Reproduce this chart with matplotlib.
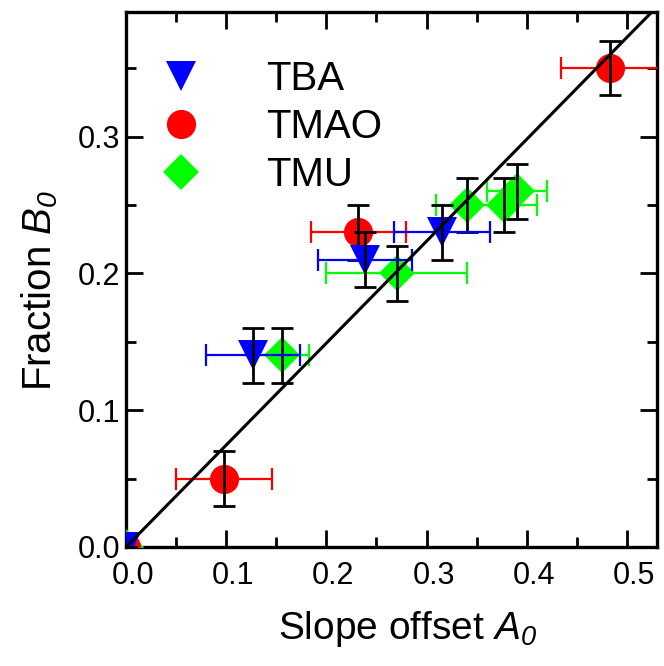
import matplotlib
matplotlib.use("Agg")
import matplotlib.pyplot as plt
from matplotlib.ticker import MultipleLocator, FormatStrFormatter
from matplotlib.transforms import ScaledTranslation

plt.rcParams['font.family'] = ['Liberation Sans', 'DejaVu Sans']
plt.rcParams['mathtext.fontset'] = 'custom'
plt.rcParams['mathtext.rm'] = 'Liberation Sans'
plt.rcParams['mathtext.it'] = 'Liberation Sans:italic'
plt.rcParams['mathtext.sf'] = 'Liberation Sans:italic'

# TBA data
tba_x = [0.0, 0.127, 0.2385, 0.315]
tba_y = [0.0, 0.14, 0.21, 0.23]
tba_xerr = [0.0, 0.047, 0.047, 0.048]
tba_yerr = [0.0, 0.02, 0.02, 0.02]

# TMAO data
tmao_x = [0.0, 0.0975, 0.232, 0.483]
tmao_y = [0.0, 0.05, 0.23, 0.35]
tmao_xerr = [0.0, 0.048, 0.047, 0.049]
tmao_yerr = [0.0, 0.02, 0.02, 0.02]

# TMU data
tmu_x = [0.0, 0.156, 0.27, 0.340, 0.377, 0.390]
tmu_y = [0.0, 0.14, 0.20, 0.25, 0.25, 0.26]
tmu_xerr = [0.0, 0.027, 0.07, 0.031, 0.033, 0.03]
tmu_yerr = [0.0, 0.02, 0.02, 0.02, 0.02, 0.02]

# guide line y = slope * x
slope = 0.745
line_x = [0.0, 0.6]

fig = plt.figure(figsize=(6.64, 6.66), dpi=100)
ax = fig.add_axes([126 / 664, 1 - 547 / 666, 531 / 664, 535 / 666])

series = [
    (tmu_x, tmu_y, tmu_xerr, tmu_yerr, '#00ff00', 'D', 18, 'TMU'),
    (tmao_x, tmao_y, tmao_xerr, tmao_yerr, '#ff0000', 'o', 21, 'TMAO'),
    (tba_x, tba_y, tba_xerr, tba_yerr, '#0000ff', 'v', 22, 'TBA'),
]

handles = {}
for i, (x, y, xe, ye, col, mk, ms, lab) in enumerate(series):
    z = 3 + i
    h, = ax.plot(x, y, linestyle='none', marker=mk, ms=ms, color=col,
                 markeredgewidth=0, zorder=z, label=lab)
    ax.errorbar(x, y, xerr=xe, fmt='none', ecolor=col, elinewidth=1.6,
                capsize=8, capthick=1.6, zorder=z + 0.1)
    ax.errorbar(x, y, yerr=ye, fmt='none', ecolor='black', elinewidth=2,
                capsize=8, capthick=2, zorder=z + 0.2)
    handles[lab] = h

ax.plot(line_x, [slope * v for v in line_x], color='black', lw=2.2, zorder=10)

ax.set_xlim(0, 0.53)
ax.set_ylim(0, 0.391)
ax.xaxis.set_major_locator(MultipleLocator(0.1))
ax.xaxis.set_minor_locator(MultipleLocator(0.05))
ax.yaxis.set_major_locator(MultipleLocator(0.1))
ax.yaxis.set_minor_locator(MultipleLocator(0.05))
ax.xaxis.set_major_formatter(FormatStrFormatter('%.1f'))
ax.yaxis.set_major_formatter(FormatStrFormatter('%.1f'))

ax.tick_params(which='both', direction='in', top=True, right=True,
               width=2, labelsize=22)
ax.tick_params(which='major', length=12)
ax.tick_params(which='minor', length=7)
ax.tick_params(axis='x', pad=10)
ax.tick_params(axis='y', pad=4)
for sp in ax.spines.values():
    sp.set_linewidth(2.4)

# x tick labels sit a little to the right of their ticks
shift = ScaledTranslation(5 / 72, 0, fig.dpi_scale_trans)
for lbl in ax.get_xticklabels():
    lbl.set_transform(lbl.get_transform() + shift)

ax.set_xlabel(r'Slope offset $A_{\mathsf{0}}$', fontsize=28)
ax.set_ylabel(r'Fraction $B_{\mathsf{0}}$', fontsize=29)
ax.xaxis.set_label_coords(0.53, -0.115)
ax.yaxis.set_label_coords(-0.125, 0.48)

leg = ax.legend([handles['TBA'], handles['TMAO'], handles['TMU']],
                ['TBA', 'TMAO', 'TMU'], loc='upper left',
                bbox_to_anchor=(0.066, 0.91), frameon=False, fontsize=29,
                handlelength=1.0, handletextpad=1.6, labelspacing=0.25,
                borderaxespad=0, borderpad=0)

fig.savefig('out.png', dpi=100)
